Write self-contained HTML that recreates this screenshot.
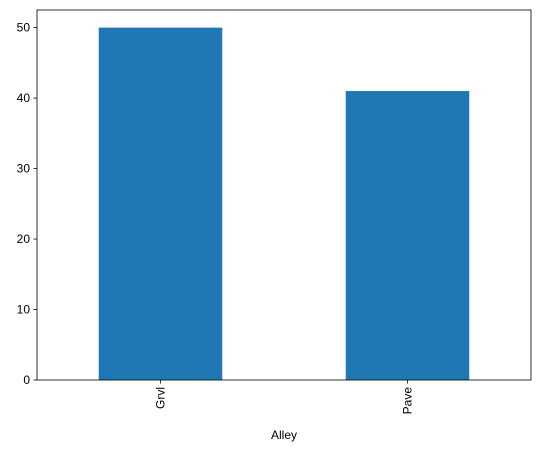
<!DOCTYPE html>
<html>
<head>
<meta charset="utf-8">
<style>
html,body{margin:0;padding:0;background:#fff;}
svg{display:block;font-family:"Liberation Sans","DejaVu Sans",sans-serif;}
</style>
</head>
<body>
<svg id="chart" width="543" height="452" viewBox="0 0 543 452"></svg>
<script>
const categories = ["Grvl", "Pave"];
const values = [50, 41];
const yTicks = [0, 10, 20, 30, 40, 50];
const xTitle = "Alley";

const svg = document.getElementById('chart');
const NS = 'http://www.w3.org/2000/svg';
const L = 37, R = 531, T = 10, B = 380;
const yMax = Math.max(...values) * 1.05;
const yScale = v => B - v / yMax * (B - T);
const xScale = i => L + (i + 0.5) / categories.length * (R - L);
const bw = 0.5 / categories.length * 2 * (R - L) / 2;

function mk(tag, attrs) {
  const e = document.createElementNS(NS, tag);
  for (const k in attrs) e.setAttribute(k, attrs[k]);
  svg.appendChild(e);
  return e;
}

categories.forEach((c, i) => {
  const r = mk('rect', {x: xScale(i) - bw / 2, y: yScale(values[i]), width: bw, height: B - yScale(values[i]), fill: '#1f77b4'});
  
  
  const t = mk('line', {x1: xScale(i), x2: xScale(i), y1: B, y2: B + 3.5, stroke: '#000', 'stroke-width': 0.8});
  
  
  const lx = xScale(i) + 4, ly = B + 7;
  const lbl = mk('text', {x: lx, y: ly, 'font-size': 12, 'text-anchor': 'end', transform: `rotate(-90 ${lx} ${ly})`, fill: '#000'});
  lbl.textContent = c;
  
  
});

yTicks.forEach(v => {
  const y = yScale(v);
  const t = mk('line', {x1: L - 3.5, x2: L, y1: y, y2: y, stroke: '#000', 'stroke-width': 0.8});
  
  
  const lbl = mk('text', {x: L - 7, y: y + 4, 'font-size': 12, 'text-anchor': 'end', fill: '#000'});
  lbl.textContent = v;
  
  
});

const frame = mk('rect', {x: L, y: T, width: R - L, height: B - T, fill: 'none', stroke: '#000', 'stroke-width': 0.8});



const xt = mk('text', {x: (L + R) / 2, y: 439, 'font-size': 12, 'text-anchor': 'middle', fill: '#000'});
xt.textContent = xTitle;


</script>
</body>
</html>
